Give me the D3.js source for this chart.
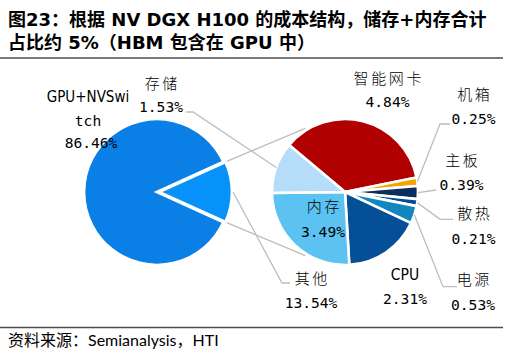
<!DOCTYPE html>
<html>
<head>
<meta charset="utf-8">
<script src="https://cdn.jsdelivr.net/npm/d3@7/dist/d3.min.js"></script>
<style>
  html, body { margin: 0; padding: 0; background: #fff; }
  svg { display: block; }
</style>
</head>
<body>
<svg id="chart" width="510" height="355"></svg>
<script>
// ---------------- data ----------------
const mainCategories = ["GPU+NVSwitch", "其他"];
const mainValues = [86.46, 13.54];
const subCategories = ["智能网卡", "机箱", "主板", "散热", "电源", "CPU", "内存", "存储"];
const subValues = [4.84, 0.25, 0.39, 0.21, 0.53, 2.31, 3.49, 1.53];
const titleLines = ["图23：根据 NV DGX H100 的成本结构，储存+内存合计", "占比约 5%（HBM 包含在 GPU 中）"];
const sourceText = "资料来源：Semianalysis，HTI";

// ---------------- styles / layout ----------------
const mainColors = ["#0A80E6", "#0792FA"];
const subColors = ["#B00000", "#F5A300", "#0A2F5E", "#0A4C8E", "#1286BF", "#044F97", "#5BC2F1", "#B5DDFA"];
const lineColor = "#BDBDBD";
const cjk = "'Noto Sans CJK SC', sans-serif";
const mono = "'DejaVu Sans Mono', monospace";
const narrow = "'Liberation Sans Narrow', 'DejaVu Sans Condensed', sans-serif";

const L = { cx: 157, cy: 192, r: 73 };
const R = { cx: 345, cy: 192, r: 73 };

const labelLayout = {
  "GPU+NVSwitch": { x: 88, lines: [["GPU+NVSwi", 101.7, "narrow"], ["tch", 126, "mono"]], vy: 148.3 },
  "其他": { x: 311, ny: 284, vy: 308, leader: [[282, 283], [290, 283]] },
  "智能网卡": { x: 387.5, ny: 83.5, vy: 107 },
  "机箱": { x: 473.5, ny: 100, vy: 124, leader: [[440, 124], [450, 124]] },
  "主板": { x: 461.5, ny: 166, vy: 189.5, leader: [[436, 190]] },
  "散热": { x: 473.5, ny: 219, vy: 244, leader: [[440, 219.3], [453, 219.3]] },
  "电源": { x: 473, ny: 285, vy: 309.5, leader: [[443, 286.7], [457, 286.7]] },
  "CPU": { x: 405, ny: 280, vy: 303.5, nameFont: "narrow" },
  "内存": { x: 323, ny: 212, vy: 236.5 },
  "存储": { x: 161, ny: 89, vy: 112, leader: [[193, 112], [186, 112]] }
};

const svg = d3.select("#chart");

// ---------------- title & rules ----------------
const title = svg.append("g").attr("font-family", "'DejaVu Sans', " + cjk).attr("font-weight", "bold").attr("fill", "#000");
title.append("text").attr("x", 8).attr("y", 25.5).attr("font-size", 18).text(titleLines[0]);
title.append("text").attr("x", 8).attr("y", 49).attr("font-size", 18).text(titleLines[1]);
svg.append("line").attr("x1", 0).attr("x2", 503).attr("y1", 58).attr("y2", 58)
  .attr("stroke", "#4d4d4d").attr("stroke-width", 1.6);
svg.append("line").attr("x1", 0).attr("x2", 503).attr("y1", 327.5).attr("y2", 327.5)
  .attr("stroke", "#4d4d4d").attr("stroke-width", 1.6);
svg.append("text").attr("x", 8).attr("y", 346).attr("font-size", 16)
  .attr("font-family", "Lato, " + cjk).attr("fill", "#000").text(sourceText);

// ---------------- pies ----------------
const deg = Math.PI / 180;
const otherShare = mainValues[1] / d3.sum(mainValues);
const mainStart = Math.PI / 2 + otherShare * Math.PI;
const mainPie = d3.pie().sort(null).startAngle(mainStart).endAngle(mainStart + 2 * Math.PI);
const mainArcs = mainPie(mainValues);
const arcL = d3.arc().innerRadius(0).outerRadius(L.r);

const subStart = -50 * deg;
const subPie = d3.pie().sort(null).startAngle(subStart).endAngle(subStart + 2 * Math.PI);
const subArcs = subPie(subValues);
const arcR = d3.arc().innerRadius(0).outerRadius(R.r);

const pt = (c, a, r) => [c.cx + r * Math.sin(a), c.cy - r * Math.cos(a)];

const gLines = svg.append("g").attr("fill", "none").attr("stroke", lineColor).attr("stroke-width", 1.3);
const otherArc = mainArcs[1];
const offset = 2;
const connectA = -32 * deg;
gLines.append("line")
  .attr("x1", pt(L, otherArc.startAngle, L.r)[0] + offset).attr("y1", pt(L, otherArc.startAngle, L.r)[1])
  .attr("x2", pt(R, connectA, R.r + 2)[0]).attr("y2", pt(R, connectA, R.r + 2)[1]);
gLines.append("line")
  .attr("x1", pt(L, otherArc.endAngle, L.r)[0] + offset).attr("y1", pt(L, otherArc.endAngle, L.r)[1])
  .attr("x2", pt(R, Math.PI - connectA, R.r + 2)[0]).attr("y2", pt(R, Math.PI - connectA, R.r + 2)[1]);

const gL = svg.append("g").attr("transform", `translate(${L.cx},${L.cy})`);
gL.selectAll("path").data(mainArcs).join("path")
  .attr("d", arcL)
  .attr("transform", (d, i) => i === 1 ? `translate(${offset},0)` : null)
  .attr("fill", (d, i) => mainColors[i])
  .attr("stroke", "#fff").attr("stroke-width", 2.8).attr("stroke-linejoin", "miter");

const gR = svg.append("g").attr("transform", `translate(${R.cx},${R.cy})`);
gR.selectAll("path").data(subArcs).join("path")
  .attr("d", arcR)
  .attr("fill", (d, i) => subColors[i])
  .attr("stroke", "#fff").attr("stroke-width", 2.6).attr("stroke-linejoin", "miter");

const gLead = svg.append("g").attr("fill", "none").attr("stroke", lineColor).attr("stroke-width", 1.3);
function leader(start, pts) {
  gLead.append("polyline").attr("points", [start].concat(pts).map(p => p.join(",")).join(" "));
}
{
  const mid = (otherArc.startAngle + otherArc.endAngle) / 2;
  const s = pt(L, mid, L.r + 1); s[0] += offset;
  leader(s, labelLayout["其他"].leader);
}
subArcs.forEach((d, i) => {
  const lay = labelLayout[subCategories[i]];
  if (!lay.leader) return;
  const mid = (d.startAngle + d.endAngle) / 2;
  leader(pt(R, mid, R.r), lay.leader);
});

// ---------------- labels ----------------
const gText = svg.append("g").attr("fill", "#000").attr("text-anchor", "middle");
function fmt(v) { return v.toFixed(2) + "%"; }
function nameText(name, lay) {
  const isCJK = /[\u4e00-\u9fff]/.test(name);
  const t = gText.append("text").attr("x", lay.x).attr("y", lay.ny).text(name);
  if (isCJK) t.attr("font-family", cjk).attr("font-size", 15).attr("font-weight", 300)
    .attr("letter-spacing", 2.6).attr("dx", 1.3);
  else t.attr("font-family", lay.nameFont === "narrow" ? narrow : mono).attr("font-size", 15.5);
}
{
  const lay = labelLayout["GPU+NVSwitch"];
  lay.lines.forEach(([s, y, f]) => {
    gText.append("text").attr("x", lay.x).attr("y", y)
      .attr("font-family", f === "narrow" ? narrow : mono).attr("font-size", f === "narrow" ? 15 : 14.6).text(s);
  });
  gText.append("text").attr("x", lay.x + 3).attr("y", lay.vy).attr("font-family", mono).attr("font-size", 14.6)
    .text(fmt(mainValues[0]));
  const lo = labelLayout["其他"];
  nameText("其他", lo);
  gText.append("text").attr("x", lo.x).attr("y", lo.vy).attr("font-family", mono).attr("font-size", 14.6)
    .text(fmt(mainValues[1]));
}
subCategories.forEach((c, i) => {
  const lay = labelLayout[c];
  nameText(c, lay);
  gText.append("text").attr("x", lay.x).attr("y", lay.vy).attr("font-family", mono).attr("font-size", 14.6)
    .text(fmt(subValues[i]));
});
</script>
</body>
</html>
